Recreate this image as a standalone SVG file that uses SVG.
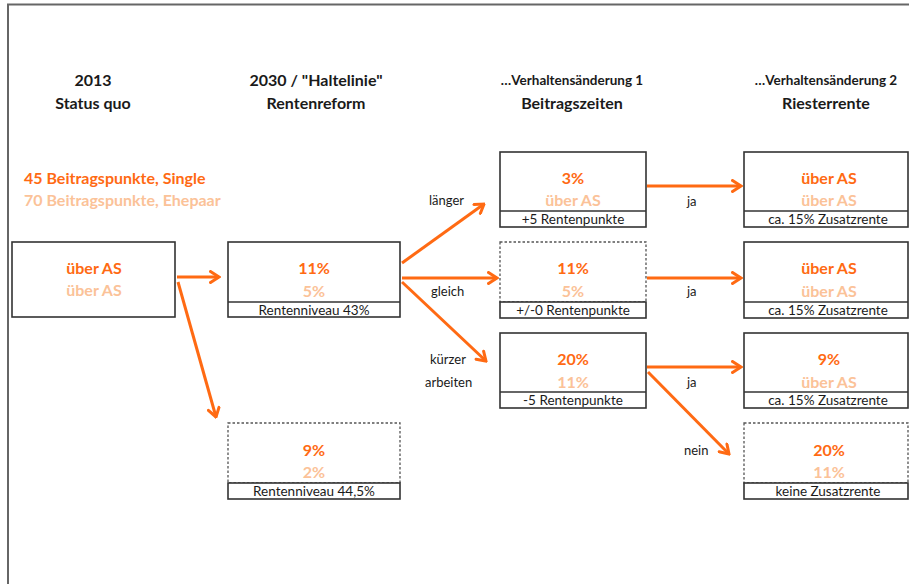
<svg xmlns="http://www.w3.org/2000/svg" width="909" height="584" viewBox="0 0 909 584">
<style>
text{font-family:Lato,"Open Sans","Liberation Sans",sans-serif}
.hd{font-size:16px;font-weight:bold;fill:#1a1a1a;text-anchor:middle}
.hs{font-size:13.5px;font-weight:bold;fill:#1a1a1a;text-anchor:middle}
.v1{font-size:16px;font-weight:bold;fill:#FF6A13;text-anchor:middle}
.v2{font-size:16px;font-weight:bold;fill:#FBC298;text-anchor:middle}
.lb{font-size:13.5px;fill:#1a1a1a;text-anchor:middle}
.el{font-size:13px;fill:#1a1a1a}
.box{fill:#fff;stroke:#333;stroke-width:1.6}
.dash{fill:none;stroke:#555;stroke-width:1.3;stroke-dasharray:2.5 2}
.sub{fill:#fff;stroke:#333;stroke-width:1.6}
.con{fill:none;stroke:#FF6A13;stroke-width:3;marker-end:url(#ah)}
</style>
<defs>
<marker id="ah" viewBox="0 0 12 14" refX="10.5" refY="7" markerWidth="12" markerHeight="14" markerUnits="userSpaceOnUse" orient="auto">
<path d="M2,1.5 L10.5,7 L2,12.5" fill="none" stroke="#FF6A13" stroke-width="3" stroke-linecap="round" stroke-linejoin="miter"/>
</marker>
</defs>
<rect width="909" height="584" fill="#fff"/>
<path d="M8,584 V4.5 H909" fill="none" stroke="#666" stroke-width="2"/>

<g id="headers">
<text class="hd" x="93" y="86">2013</text>
<text class="hd" x="93" y="109">Status quo</text>
<text class="hd" x="316" y="86">2030 / "Haltelinie"</text>
<text class="hd" x="316" y="109">Rentenreform</text>
<text class="hs" x="572" y="85">…Verhaltensänderung 1</text>
<text class="hd" x="572" y="109">Beitragszeiten</text>
<text class="hs" x="826" y="85">…Verhaltensänderung 2</text>
<text class="hd" x="826" y="109">Riesterrente</text>
</g>

<g id="legend">
<text x="24" y="184" style="font-size:16px;font-weight:bold;fill:#FF6A13">45 Beitragspunkte, Single</text>
<text x="24" y="206" style="font-size:16px;font-weight:bold;fill:#FBC298">70 Beitragspunkte, Ehepaar</text>
</g>

<g id="connectors">
<line class="con" x1="177" y1="277" x2="219" y2="277"/>
<line class="con" x1="178" y1="282" x2="216" y2="417"/>
<line class="con" x1="402" y1="263" x2="484" y2="204"/>
<line class="con" x1="402" y1="278" x2="497" y2="278"/>
<line class="con" x1="402" y1="282" x2="486" y2="361"/>
<line class="con" x1="647" y1="186" x2="741" y2="186"/>
<line class="con" x1="647" y1="278" x2="741" y2="278"/>
<line class="con" x1="647" y1="367" x2="741" y2="367"/>
<line class="con" x1="648" y1="372" x2="729" y2="454"/>
<text class="el" x="429" y="205">länger</text>
<text class="el" x="431" y="296">gleich</text>
<text class="el" x="430" y="364">kürzer</text>
<text class="el" x="425" y="387">arbeiten</text>
<text class="el" x="687" y="206">ja</text>
<text class="el" x="687" y="296">ja</text>
<text class="el" x="687" y="387">ja</text>
<text class="el" x="684" y="455">nein</text>
</g>

<g id="statusquo">
<rect class="box" x="12" y="242" width="163" height="75"/>
<text class="v1" x="94" y="274">über AS</text>
<text class="v2" x="94" y="296">über AS</text>
</g>

<g id="reform">
<rect class="box" x="228" y="242" width="172" height="75"/>
<line x1="228" y1="302" x2="400" y2="302" stroke="#333" stroke-width="1.6"/>
<text class="v1" x="314" y="274">11%</text>
<text class="v2" x="314" y="297">5%</text>
<text class="lb" x="314" y="315">Rentenniveau 43%</text>
</g>

<g id="haltelinie">
<rect class="dash" x="228" y="423" width="172" height="60"/>
<rect class="sub" x="228" y="483" width="172" height="16"/>
<text class="v1" x="314" y="456">9%</text>
<text class="v2" x="314" y="478">2%</text>
<text class="lb" x="314" y="496">Rentenniveau 44,5%</text>
</g>

<g id="laenger">
<rect class="box" x="500" y="152" width="146" height="75"/>
<line x1="500" y1="211" x2="646" y2="211" stroke="#333" stroke-width="1.6"/>
<text class="v1" x="573" y="184">3%</text>
<text class="v2" x="573" y="206">über AS</text>
<text class="lb" x="573" y="224">+5 Rentenpunkte</text>
</g>

<g id="gleich">
<rect class="dash" x="500" y="242" width="146" height="60"/>
<rect class="sub" x="500" y="302" width="146" height="16"/>
<text class="v1" x="573" y="274">11%</text>
<text class="v2" x="573" y="297">5%</text>
<text class="lb" x="573" y="315">+/-0 Rentenpunkte</text>
</g>

<g id="kuerzer">
<rect class="box" x="500" y="333" width="146" height="75"/>
<line x1="500" y1="392" x2="646" y2="392" stroke="#333" stroke-width="1.6"/>
<text class="v1" x="573" y="365">20%</text>
<text class="v2" x="573" y="388">11%</text>
<text class="lb" x="573" y="405">-5 Rentenpunkte</text>
</g>

<g id="riester1">
<rect class="box" x="744" y="152" width="164" height="75"/>
<line x1="744" y1="211" x2="908" y2="211" stroke="#333" stroke-width="1.6"/>
<text class="v1" x="829" y="184">über AS</text>
<text class="v2" x="829" y="206">über AS</text>
<text class="lb" x="828" y="224">ca. 15% Zusatzrente</text>
</g>

<g id="riester2">
<rect class="box" x="744" y="242" width="164" height="76"/>
<line x1="744" y1="302" x2="908" y2="302" stroke="#333" stroke-width="1.6"/>
<text class="v1" x="829" y="274">über AS</text>
<text class="v2" x="829" y="297">über AS</text>
<text class="lb" x="828" y="315">ca. 15% Zusatzrente</text>
</g>

<g id="riester3">
<rect class="box" x="744" y="333" width="164" height="75"/>
<line x1="744" y1="392" x2="908" y2="392" stroke="#333" stroke-width="1.6"/>
<text class="v1" x="829" y="365">9%</text>
<text class="v2" x="829" y="388">über AS</text>
<text class="lb" x="828" y="405">ca. 15% Zusatzrente</text>
</g>

<g id="keine">
<rect class="dash" x="744" y="423" width="164" height="60"/>
<rect class="sub" x="744" y="483" width="164" height="16"/>
<text class="v1" x="829" y="456">20%</text>
<text class="v2" x="829" y="478">11%</text>
<text class="lb" x="828" y="496">keine Zusatzrente</text>
</g>
</svg>
